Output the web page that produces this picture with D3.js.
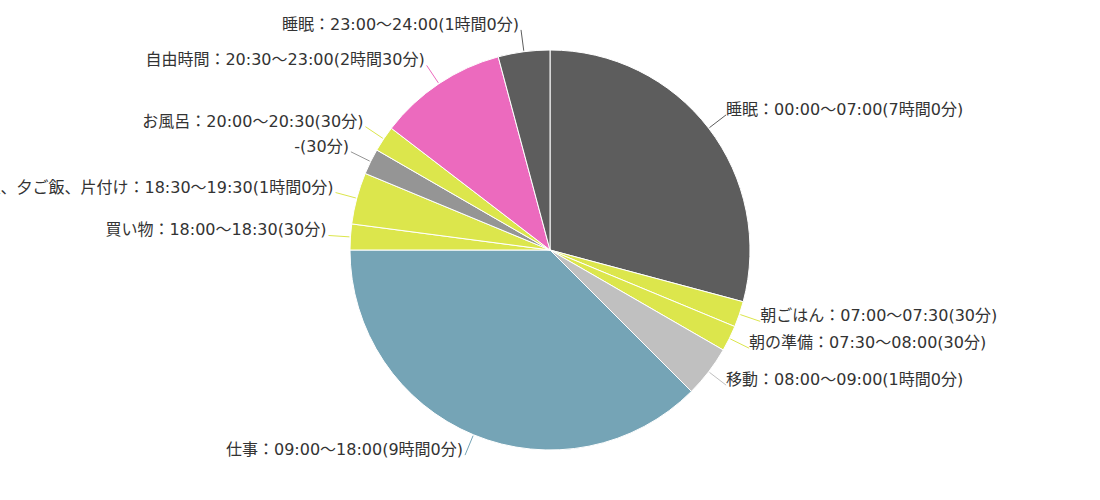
<!DOCTYPE html>
<html>
<head>
<meta charset="utf-8">
<script src="https://cdn.jsdelivr.net/npm/d3@7"></script>
<style>
  body { margin: 0; background: #fff; }
  text { font-family: "DejaVu Sans", "Noto Sans CJK JP", sans-serif; font-size: 16px; fill: #333; }
</style>
</head>
<body>
<svg id="chart" width="1100" height="500"></svg>
<script>
// 一日のスケジュール (分)
const labels = [
    "睡眠：00:00～07:00(7時間0分)",
    "朝ごはん：07:00～07:30(30分)",
    "朝の準備：07:30～08:00(30分)",
    "移動：08:00～09:00(1時間0分)",
    "仕事：09:00～18:00(9時間0分)",
    "買い物：18:00～18:30(30分)",
    "料理、夕ご飯、片付け：18:30～19:30(1時間0分)",
    "-(30分)",
    "お風呂：20:00～20:30(30分)",
    "自由時間：20:30～23:00(2時間30分)",
    "睡眠：23:00～24:00(1時間0分)"
];
const minutes = [420, 30, 30, 60, 540, 30, 60, 30, 30, 150, 60];
const colors = ["#5d5d5d", "#dce64c", "#dce64c", "#c0c0c0", "#75a4b6", "#dce64c",
                "#dce64c", "#959595", "#dce64c", "#ec6abe", "#5d5d5d"];

const data = labels.map((d, i) => ({label: d, value: minutes[i], color: colors[i]}));

const svg = d3.select("#chart");
const cx = 550, cy = 250, radius = 200;

const pie = d3.pie().value(d => d.value).sort(null);
const arc = d3.arc().innerRadius(0).outerRadius(radius);
const arcs = pie(data);

const g = svg.append("g").attr("transform", `translate(${cx}, ${cy})`);

g.selectAll("path")
    .data(arcs)
    .enter()
    .append("path")
    .attr("d", arc)
    .attr("fill", d => d.data.color)
    .attr("stroke", "#fff")
    .attr("stroke-width", 1);

// label lines from the edge out to the label point
const inner = d3.arc().innerRadius(radius + 1).outerRadius(radius + 1);
const outer = d3.arc().innerRadius(radius + 22).outerRadius(radius + 22);

arcs.forEach(d => {
    const mid = (d.startAngle + d.endAngle) / 2;
    const p0 = inner.centroid(d);
    const p1 = outer.centroid(d);
    const right = mid < Math.PI;

    g.append("line")
        .attr("x1", p0[0]).attr("y1", p0[1])
        .attr("x2", p1[0]).attr("y2", p1[1])
        .attr("stroke", d.data.color)
        .attr("stroke-width", 1);

    g.append("text")
        .attr("x", p1[0] + (right ? 0 : -2))
        .attr("y", p1[1])
        .attr("text-anchor", right ? "start" : "end")
        .text(d.data.label);
});
</script>
</body>
</html>
